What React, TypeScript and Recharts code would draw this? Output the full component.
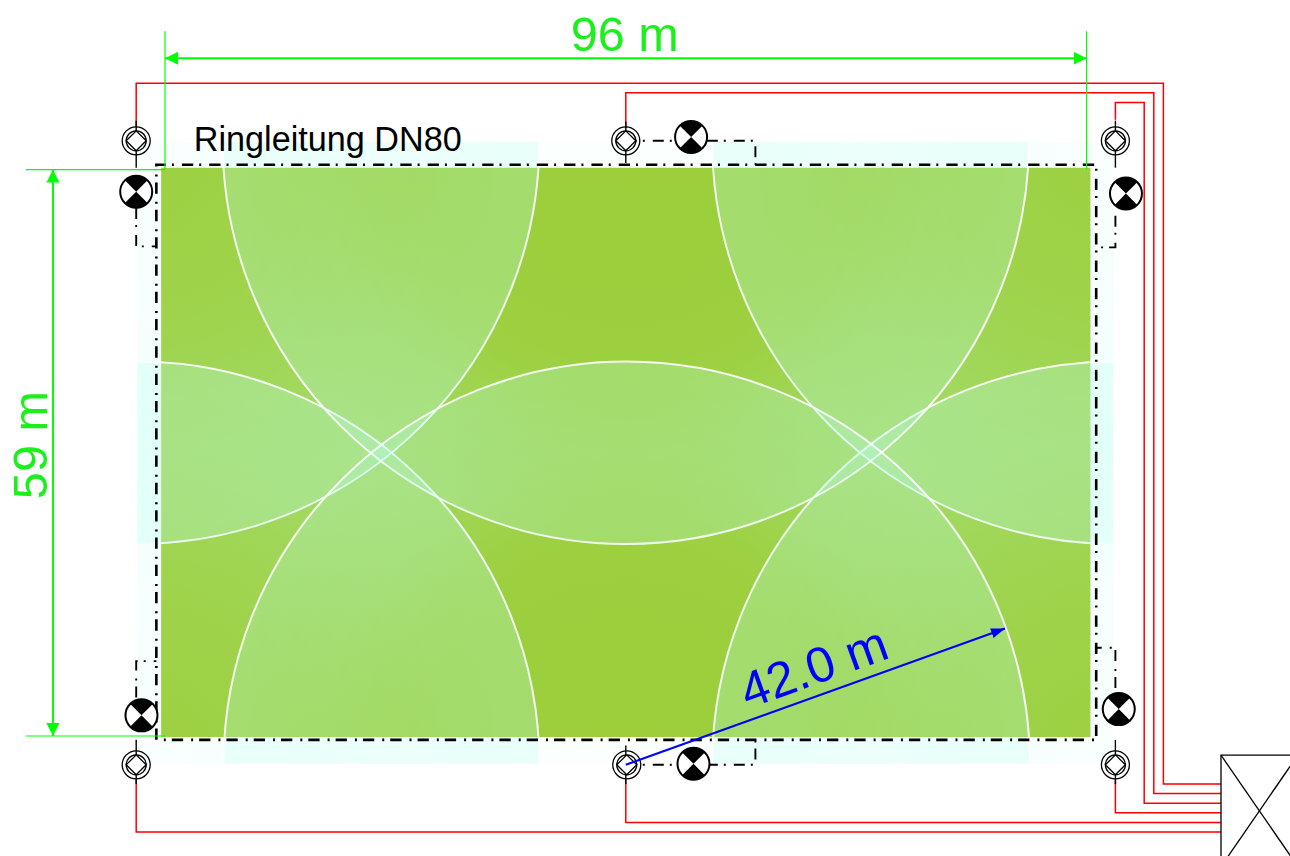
import React from 'react';
import { ComposedChart, Line, Scatter, XAxis, YAxis, ReferenceArea, ReferenceLine } from 'recharts';

// Plan coordinates in metres; origin at the lower-left corner of the 96 m x 59 m field.
const WIDTH = 1290;
const HEIGHT = 856;
const X_DOMAIN = [-17.1875, 117.1875];
const Y_DOMAIN = [-12.5, 76.6667];
const PX_PER_M = WIDTH / (X_DOMAIN[1] - X_DOMAIN[0]);

const fieldX = [-0.4, 96.4];
const fieldY = [-0.1, 59.2];
const haloX = [-2.9, 98.8];
const haloY = [-2.9, 61.9];

const cornerSprinklers = [
  { x: -3, y: 62, r: 42 },
  { x: 99, y: 62, r: 42 },
  { x: -3, y: -3, r: 42 },
  { x: 99, y: -3, r: 42 },
];
const middleSprinklers = [
  { x: 48, y: 62, r: 42 },
  { x: 48.1, y: -3, r: 42 },
];

const lamps = [
  { x: 54.8, y: 62.4 },
  { x: -3, y: 56.7 },
  { x: 100.1, y: 56.5 },
  { x: 99.35, y: 2.8 },
  { x: -2.45, y: 2.15 },
  { x: 55.05, y: -2.9 },
];

const redLines = [
  [{ x: -3, y: 63.5 }, { x: -3, y: 68 }, { x: 104, y: 68 }, { x: 104, y: -5 }, { x: 110, y: -5 }],
  [{ x: 48, y: 63.3 }, { x: 48, y: 67 }, { x: 103, y: 67 }, { x: 103, y: -6 }, { x: 110, y: -6 }],
  [{ x: 99, y: 64.2 }, { x: 99, y: 66 }, { x: 102, y: 66 }, { x: 102, y: -7 }, { x: 110, y: -7 }],
  [{ x: 99, y: -4.5 }, { x: 99, y: -8 }, { x: 110, y: -8 }],
  [{ x: 48, y: -4.5 }, { x: 48, y: -9 }, { x: 110, y: -9 }],
  [{ x: -3, y: -4.5 }, { x: -3, y: -10 }, { x: 110, y: -10 }],
];

const ringMain = [
  { x: -0.9, y: -0.4 }, { x: -0.9, y: 59.5 }, { x: 97, y: 59.5 }, { x: 97, y: -0.4 }, { x: -0.9, y: -0.4 },
];

const ringBranches = [
  [{ x: 48, y: 62 }, { x: 61.5, y: 62 }, { x: 61.5, y: 59.5 }],
  [{ x: -3, y: 55 }, { x: -3, y: 51 }, { x: -0.9, y: 51 }],
  [{ x: 99, y: 54.2 }, { x: 99, y: 50.9 }, { x: 97, y: 50.9 }],
  [{ x: 99, y: 5 }, { x: 99, y: 9.2 }, { x: 97, y: 9.2 }],
  [{ x: -3, y: 4 }, { x: -3, y: 7.8 }, { x: -0.9, y: 7.8 }],
  [{ x: 48, y: -3 }, { x: 61.5, y: -3 }, { x: 61.5, y: -0.4 }],
];

const sprinklerStubs = [
  [{ x: -3, y: 64.1 }, { x: -3, y: 59.2 }],
  [{ x: 48, y: 64 }, { x: 48, y: 59.7 }],
  [{ x: 99, y: 64.1 }, { x: 99, y: 59.2 }],
  [{ x: -3, y: -0.4 }, { x: -3, y: -5 }],
  [{ x: 48, y: -1 }, { x: 48, y: -5 }],
  [{ x: 99, y: -0.4 }, { x: 99, y: -5 }],
];

const boxLines = [
  [{ x: 118, y: -2 }, { x: 110, y: -2 }, { x: 110, y: -13.6 }, { x: 118, y: -13.6 }],
  [{ x: 110, y: -2 }, { x: 118, y: -13.6 }],
  [{ x: 118, y: -2 }, { x: 110, y: -13.6 }],
];

const greenExtensions = [
  [{ x: 0, y: 73.4 }, { x: 0, y: 59 }],
  [{ x: 96, y: 73.4 }, { x: 96, y: 59 }],
];
const greenLeaders = [
  [{ x: -14.5, y: 59 }, { x: 0, y: 59 }],
  [{ x: -14.5, y: 0 }, { x: 0, y: 0 }],
];
const greenDimensions = [
  [{ x: 0, y: 70.6 }, { x: 96, y: 70.6 }],
  [{ x: -11.67, y: 0 }, { x: -11.67, y: 59 }],
];
const radiusLine = [{ x: 48, y: -3 }, { x: 87.5, y: 11.2 }];

const widthLabel = [{ x: 47.9, y: 71.35, text: '96 m' }];
const heightLabel = [{ x: -12.3, y: 30.3, text: '59 m' }];
const ringLabel = [{ x: 3.0, y: 60.95, text: 'Ringleitung DN80' }];
const radiusLabel = [{ x: 60.7, y: 2.8, text: '42.0 m' }];

const pxX = (x: number) => (x - X_DOMAIN[0]) * PX_PER_M;
const pxY = (y: number) => (Y_DOMAIN[1] - y) * PX_PER_M;

const circleShape = (gradient: string) => (p: any) => (
  <g clipPath="url(#haloClip)">
    <circle cx={p.cx} cy={p.cy} r={p.payload.r * PX_PER_M} fill={`url(#${gradient})`} stroke="none" />
    <circle cx={p.cx} cy={p.cy} r={p.payload.r * PX_PER_M} fill="none" stroke="#ffffff" strokeWidth={2} strokeOpacity={0.9} />
  </g>
);

const SprinklerShape = (p: any) => {
  const { cx, cy } = p;
  return (
    <g fill="none" stroke="#000" strokeWidth={1.3}>
      <circle cx={cx} cy={cy} r={14} />
      <circle cx={cx} cy={cy} r={10} />
      <path d={`M${cx - 10} ${cy}L${cx} ${cy - 10}L${cx + 10} ${cy}L${cx} ${cy + 10}Z`} fill="#fff" />
    </g>
  );
};

const LampShape = (p: any) => {
  const { cx, cy } = p;
  const r = 16;
  const k = r * Math.SQRT1_2;
  return (
    <g>
      <circle cx={cx} cy={cy} r={r} fill="#fff" stroke="#000" strokeWidth={2} />
      <path
        d={`M${cx} ${cy}L${cx - k} ${cy - k}A${r} ${r} 0 0 1 ${cx + k} ${cy - k}ZM${cx} ${cy}L${cx + k} ${cy + k}A${r} ${r} 0 0 1 ${cx - k} ${cy + k}Z`}
        fill="#000"
      />
    </g>
  );
};

const textShape = (size: number, fill: string, angle: number, anchor: string) => (p: any) => (
  <text
    x={p.cx}
    y={p.cy}
    fontFamily="'Liberation Sans', Arial, sans-serif"
    fontSize={size}
    fill={fill}
    textAnchor={anchor}
    transform={angle ? `rotate(${angle} ${p.cx} ${p.cy})` : undefined}
  >
    {p.payload.text}
  </text>
);

const Arrow = ({ id, color, len, half }: { id: string; color: string; len: number; half: number }) => (
  <marker id={id} markerUnits="userSpaceOnUse" viewBox={`0 0 ${len} ${half * 2}`} refX={len} refY={half}
    markerWidth={len} markerHeight={half * 2} orient="auto-start-reverse">
    <path d={`M0 0L${len} ${half}L0 ${half * 2}Z`} fill={color} />
  </marker>
);

const WET = 'rgb(186,255,240)';
const GREEN = '#1cf01c';

export default function App() {
  return (
    <div style={{ position: 'absolute', left: 0, top: 0, width: WIDTH, height: HEIGHT, overflow: 'hidden', background: '#fff' }}>
      <ComposedChart width={WIDTH} height={HEIGHT} margin={{ top: 0, right: 0, bottom: 0, left: 0 }}>
        <defs>
          <clipPath id="haloClip">
            <rect x={pxX(haloX[0])} y={pxY(haloY[1])} width={pxX(haloX[1]) - pxX(haloX[0])} height={pxY(haloY[0]) - pxY(haloY[1])} />
          </clipPath>
          <radialGradient id="midWet">
            <stop offset="0" stopColor={WET} stopOpacity={0.05} />
            <stop offset="0.5" stopColor={WET} stopOpacity={0.07} />
            <stop offset="0.61" stopColor={WET} stopOpacity={0.105} />
            <stop offset="0.77" stopColor={WET} stopOpacity={0.19} />
            <stop offset="1" stopColor={WET} stopOpacity={0.25} />
          </radialGradient>
          <radialGradient id="cornerWet">
            <stop offset="0" stopColor={WET} stopOpacity={0.09} />
            <stop offset="0.42" stopColor={WET} stopOpacity={0.135} />
            <stop offset="0.78" stopColor={WET} stopOpacity={0.25} />
            <stop offset="1" stopColor={WET} stopOpacity={0.28} />
          </radialGradient>
          <Arrow id="greenHead" color="#00ff00" len={13} half={6.5} />
          <Arrow id="blueHead" color="#0000ff" len={14} half={5} />
        </defs>
        <XAxis type="number" dataKey="x" domain={X_DOMAIN} allowDataOverflow hide />
        <YAxis type="number" dataKey="y" domain={Y_DOMAIN} allowDataOverflow hide />
        <ReferenceArea x1={fieldX[0]} x2={fieldX[1]} y1={fieldY[0]} y2={fieldY[1]} fill="#9acc30" fillOpacity={1} stroke="none" ifOverflow="visible" zIndex={100} />
        <Scatter data={cornerSprinklers} shape={circleShape('cornerWet')} isAnimationActive={false} zIndex={200} />
        <Scatter data={middleSprinklers} shape={circleShape('midWet')} isAnimationActive={false} zIndex={200} />
        {ringBranches.map((d, i) => (
          <Line key={`b${i}`} data={d} dataKey="y" dot={false} stroke="#000" strokeWidth={1.9} strokeDasharray="11 6 2 8" isAnimationActive={false} zIndex={300} />
        ))}
        <Line data={ringMain} dataKey="y" dot={false} stroke="#000" strokeWidth={2.6} strokeDasharray="11.3 6 2 8" isAnimationActive={false} zIndex={300} />
        {redLines.map((d, i) => (
          <Line key={`r${i}`} data={d} dataKey="y" dot={false} stroke="#ff0000" strokeWidth={1.5} isAnimationActive={false} zIndex={310} />
        ))}
        {boxLines.map((d, i) => (
          <Line key={`x${i}`} data={d} dataKey="y" dot={false} stroke="#000" strokeWidth={1.3} isAnimationActive={false} zIndex={320} />
        ))}
        {sprinklerStubs.map((d, i) => (
          <Line key={`s${i}`} data={d} dataKey="y" dot={false} stroke="#000" strokeWidth={1.4} isAnimationActive={false} zIndex={330} />
        ))}
        <Scatter data={cornerSprinklers} shape={SprinklerShape} isAnimationActive={false} zIndex={340} />
        <Scatter data={middleSprinklers} shape={SprinklerShape} isAnimationActive={false} zIndex={340} />
        <Scatter data={lamps} shape={LampShape} isAnimationActive={false} zIndex={350} />
        {greenExtensions.map((d, i) => (
          <Line key={`g${i}`} data={d} dataKey="y" dot={false} stroke="#00ff00" strokeWidth={1.2} isAnimationActive={false} zIndex={360} />
        ))}
        {greenLeaders.map((d, i) => (
          <ReferenceLine key={`l${i}`} segment={d} stroke="#00ff00" strokeWidth={1.2} ifOverflow="visible" zIndex={360} />
        ))}
        {greenDimensions.map((d, i) => (
          <Line key={`d${i}`} data={d} dataKey="y" dot={false} stroke="#00ff00" strokeWidth={2} markerStart="url(#greenHead)" markerEnd="url(#greenHead)" isAnimationActive={false} zIndex={360} />
        ))}
        <Line data={radiusLine} dataKey="y" dot={false} stroke="#0000ff" strokeWidth={2} markerEnd="url(#blueHead)" isAnimationActive={false} zIndex={370} />
        <Scatter data={widthLabel} shape={textShape(48.6, GREEN, 0, 'middle')} isAnimationActive={false} zIndex={400} />
        <Scatter data={heightLabel} shape={textShape(48.6, GREEN, -90, 'middle')} isAnimationActive={false} zIndex={400} />
        <Scatter data={ringLabel} shape={textShape(34.2, '#000', 0, 'start')} isAnimationActive={false} zIndex={400} />
        <Scatter data={radiusLabel} shape={textShape(50, '#0000ff', -19.8, 'start')} isAnimationActive={false} zIndex={400} />
      </ComposedChart>
    </div>
  );
}
